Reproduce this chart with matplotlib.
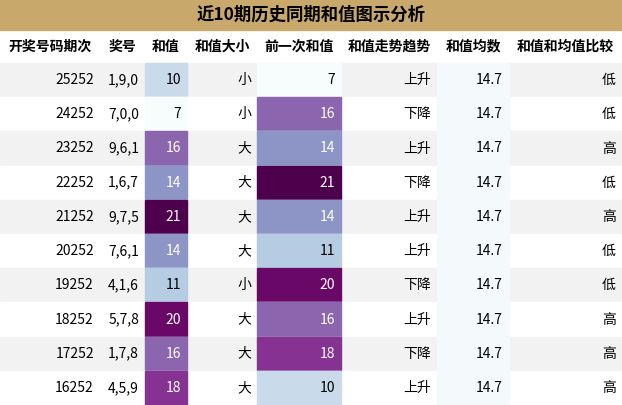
import matplotlib
matplotlib.use('Agg')
import matplotlib.pyplot as plt
from matplotlib.patches import Rectangle
from matplotlib import cm, colors

plt.rcParams['font.family'] = ['Noto Sans CJK SC', 'DejaVu Sans']

title = '近10期历史同期和值图示分析'
headers = ['开奖号码期次', '奖号', '和值', '和值大小', '前一次和值', '和值走势趋势', '和值均数', '和值和均值比较']
periods = ['25252', '24252', '23252', '22252', '21252', '20252', '19252', '18252', '17252', '16252']
numbers = ['1,9,0', '7,0,0', '9,6,1', '1,6,7', '9,7,5', '7,6,1', '4,1,6', '5,7,8', '1,7,8', '4,5,9']
sums = [10, 7, 16, 14, 21, 14, 11, 20, 16, 18]
sizes = ['小', '小', '大', '大', '大', '大', '小', '大', '大', '大']
prev_sums = [7, 16, 14, 21, 14, 11, 20, 16, 18, 10]
trends = ['上升', '下降', '上升', '下降', '上升', '上升', '下降', '上升', '下降', '上升']
means = [14.7] * 10
compare = ['低', '低', '高', '低', '高', '低', '低', '高', '高', '高']

col_edges = [0, 100, 145, 187, 257, 341, 437, 509, 622]
title_h = 30
head_h = 33
row_h = (405 - title_h - head_h) / 10

cmap = cm.get_cmap('BuPu')
norm = colors.Normalize(vmin=7, vmax=21)

fig = plt.figure(figsize=(6.22, 4.05), dpi=100)
ax = fig.add_axes([0, 0, 1, 1])
ax.set_xlim(0, 622)
ax.set_ylim(405, 0)
ax.axis('off')

ax.add_patch(Rectangle((0, 0), 622, title_h, color='#c9a96b'))
ax.text(311, title_h / 2, title, ha='center', va='center', fontsize=12.5, fontweight='bold', color='black')

for j, h in enumerate(headers):
    cx = (col_edges[j] + col_edges[j + 1]) / 2
    ax.text(cx, title_h + head_h / 2, h, ha='center', va='center', fontsize=10, fontweight='bold')

for i in range(10):
    y0 = title_h + head_h + i * row_h
    yc = y0 + row_h / 2
    bg = '#f2f2f2' if i % 2 == 0 else 'white'
    ax.add_patch(Rectangle((0, y0), 622, row_h, color=bg))
    # colored cells
    for j, v in ((2, sums[i]), (4, prev_sums[i])):
        c = cmap(norm(v))
        ax.add_patch(Rectangle((col_edges[j], y0), col_edges[j + 1] - col_edges[j], row_h, color=c))
    ax.add_patch(Rectangle((col_edges[6], y0), col_edges[7] - col_edges[6], row_h, color='#f4fafc'))
    vals = [periods[i], numbers[i], str(sums[i]), sizes[i], str(prev_sums[i]), trends[i],
            '%.1f' % means[i], compare[i]]
    for j, s in enumerate(vals):
        tc = 'black'
        if j == 2 and sums[i] >= 14:
            tc = 'white'
        if j == 4 and prev_sums[i] >= 14:
            tc = 'white'
        ax.text(col_edges[j + 1] - 6, yc, s, ha='right', va='center', fontsize=10, color=tc)

fig.savefig('out.png', dpi=100)
